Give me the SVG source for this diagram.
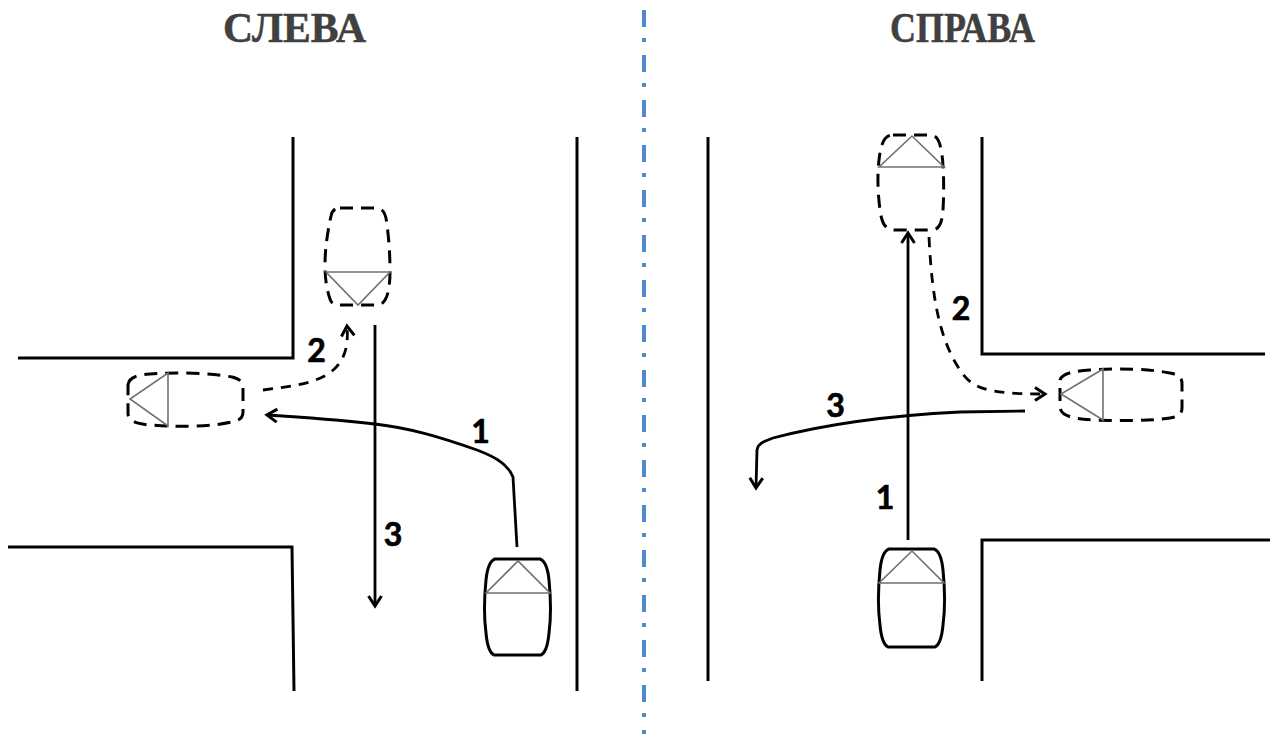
<svg xmlns="http://www.w3.org/2000/svg" width="1279" height="734" viewBox="0 0 1279 734">
<style>
.road{fill:none;stroke:#000;stroke-width:3}
.title{font-family:"Liberation Serif",serif;font-weight:bold;font-size:42px;fill:#404040;stroke:#404040;stroke-width:.5}
.num{font-family:Lato,sans-serif;font-weight:bold;font-size:32px;fill:#000;stroke:#000;stroke-width:.7;text-anchor:middle}
.body{fill:#fff;stroke:#000;stroke-width:3}
.dash{stroke-dasharray:13 8}
.glass{fill:none;stroke:#707070;stroke-width:1.6}
.conn{fill:none;stroke:#000;stroke-width:2.8;marker-end:url(#a)}
.cd{stroke-width:2.8;stroke-dasharray:10 8}
</style>
<defs>
<marker id="a" markerUnits="userSpaceOnUse" markerWidth="18" markerHeight="18" refX="15" refY="9" orient="auto" overflow="visible">
<path d="M5 2.500L15 9L5 15.500" fill="none" stroke="#000" stroke-width="3"/>
</marker>
</defs>
<rect width="1279" height="734" fill="#fff"/>
<g id="titles">
<text class="title" x="223" y="42" textLength="143" lengthAdjust="spacingAndGlyphs">СЛЕВА</text>
<text class="title" x="890" y="42" textLength="145" lengthAdjust="spacingAndGlyphs">СПРАВА</text>
</g>
<line id="divider" x1="644" y1="10" x2="644" y2="734" stroke="#4f88cf" stroke-width="4" stroke-dasharray="17 11 4 13"/>
<g id="roads">
<path class="road" d="M293 137V358H18"/>
<path class="road" d="M8 547H292L294 691"/>
<path class="road" d="M577 137V691"/>
<path class="road" d="M708 137V681"/>
<path class="road" d="M982 137V354H1265"/>
<path class="road" d="M982 681V540H1270"/>
</g>
<g id="connectors">
<path class="conn" d="M517 547L513 477C507 462 490 455 477 450C440 437 410 428 375 424C340 420 300 417 267 415"/>
<path class="conn cd" d="M263 390C310 384 352 380 347 326"/>
<path class="conn" d="M375 325V606"/>
<path class="conn" d="M908 540V233"/>
<path class="conn cd" d="M929 237C932 300 940 340 960 370C972 388 985 394 1045 394"/>
<path class="conn" d="M1025 411L960 412C900 415 830 423 773 438C765 441 758 443 757 450L756 488"/>
</g>
<g id="car-left-top">
<path class="body dash" d="M340 208H375C385 208 386 216 387 225C389 240 390 255 390 272C390 285 388 296 385 300C382 305 378 305 374 305H341C336 305 332 305 330 299C327 290 325 280 325 265C325 245 329 225 331 216C332 210 336 208 340 208Z"/>
<path class="glass" d="M326 272H390L358 305Z"/>
</g>
<g id="car-left-side">
<path class="body dash" d="M128 385C129 376 140 375 150 374C175 372 210 373 232 377C240 379 243 382 243 388V412C243 418 240 420 232 422C210 427 175 427 150 425C138 424 129 422 128 414Z"/>
<path class="glass" d="M168 373V426L130 399Z"/>
</g>
<g id="car-bottom-left">
<path class="body" d="M495 559H540C546 561 548 570 549 580C551 600 551 618 549 633C548 644 545 653 541 655H494C490 653 487 644 486 633C484 618 484 600 486 580C487 570 489 561 495 559Z"/>
<path class="glass" d="M486 593H550L518 561Z"/>
</g>
<g id="car-right-top">
<path class="body dash" d="M893 135H930C938 135 940 142 942 155C944 170 944 195 943 210C942 225 938 230 932 230H895C886 230 882 225 880 210C878 195 877 175 879 160C881 142 885 135 893 135Z"/>
<path class="glass" d="M879 167H944L912 136Z"/>
</g>
<g id="car-right-side">
<path class="body dash" d="M1060 380C1062 373 1075 371 1090 370C1120 368 1150 369 1170 373C1180 375 1182 378 1182 384V408C1182 414 1178 417 1170 418C1150 421 1120 421 1095 420C1075 419 1062 417 1060 408Z"/>
<path class="glass" d="M1103 369V420L1061 394Z"/>
</g>
<g id="car-bottom-right">
<path class="body" d="M889 549H934C940 551 942 560 943 570C945 590 945 610 943 625C942 636 939 645 935 647H888C884 645 881 636 880 625C878 610 878 590 880 570C881 560 883 551 889 549Z"/>
<path class="glass" d="M879 583H944L912 551Z"/>
</g>
<g id="labels">
<text class="num" x="316.500" y="362">2</text>
<text class="num" x="480.500" y="443">1</text>
<text class="num" x="393" y="546">3</text>
<text class="num" x="961" y="320">2</text>
<text class="num" x="835.500" y="417">3</text>
<text class="num" x="885" y="509">1</text>
</g>
</svg>
